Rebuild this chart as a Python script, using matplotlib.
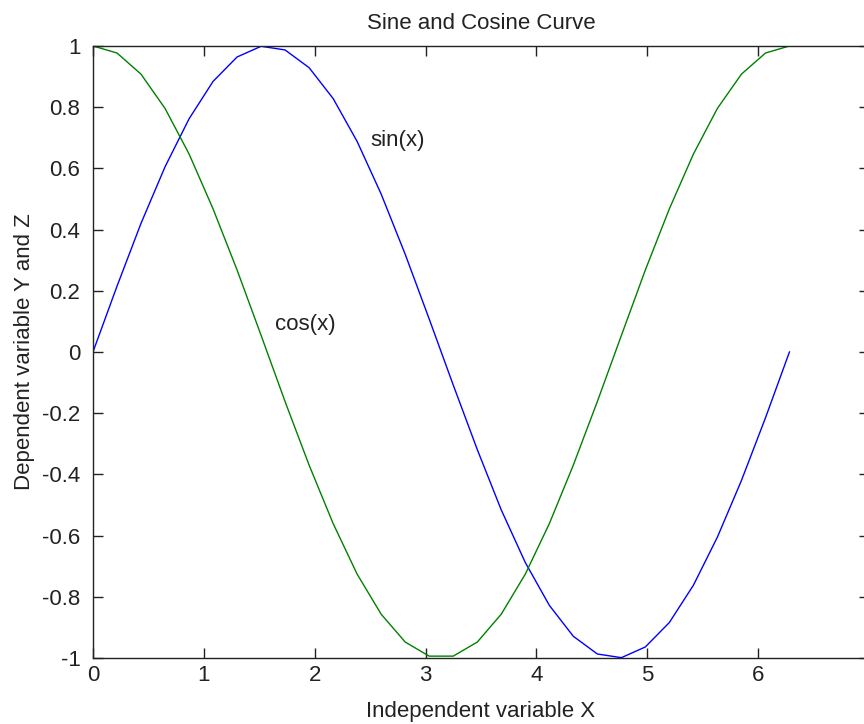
import matplotlib
matplotlib.use("Agg")
import matplotlib.pyplot as plt

# sample points (30 points from 0 to 2*pi)
x = [0.000, 0.217, 0.433, 0.650, 0.867, 1.083, 1.300, 1.517, 1.733, 1.950,
     2.167, 2.383, 2.600, 2.817, 3.033, 3.250, 3.467, 3.683, 3.900, 4.117,
     4.333, 4.550, 4.767, 4.983, 5.200, 5.417, 5.633, 5.850, 6.067, 6.283]
y_sin = [0.000, 0.215, 0.420, 0.605, 0.762, 0.884, 0.964, 0.999, 0.987, 0.929,
         0.828, 0.688, 0.516, 0.319, 0.108, -0.108, -0.319, -0.516, -0.688, -0.828,
         -0.929, -0.987, -0.999, -0.964, -0.884, -0.762, -0.605, -0.420, -0.215, 0.000]
z_cos = [1.000, 0.977, 0.908, 0.796, 0.647, 0.468, 0.268, 0.054, -0.162, -0.370,
         -0.561, -0.726, -0.857, -0.948, -0.994, -0.994, -0.948, -0.857, -0.726, -0.561,
         -0.370, -0.162, 0.054, 0.268, 0.468, 0.647, 0.796, 0.908, 0.977, 1.000]

x_ticks = [0, 1, 2, 3, 4, 5, 6, 7]
y_ticks = [-1, -0.8, -0.6, -0.4, -0.2, 0, 0.2, 0.4, 0.6, 0.8, 1]
y_tick_labels = ['-1', '-0.8', '-0.6', '-0.4', '-0.2', '0', '0.2', '0.4', '0.6', '0.8', '1']

plt.rcParams['font.family'] = ['Liberation Sans', 'DejaVu Sans']
plt.rcParams['font.size'] = 16

fig = plt.figure(figsize=(8.64, 7.24), dpi=100)
# axes box runs past the right edge of the picture, as in the reference
ax = fig.add_axes([0.1076, 0.0912, 0.8981, 0.8453])

ax.plot(x, y_sin, color=(0, 0, 1), linewidth=1.0)
ax.plot(x, z_cos, color=(0, 0.5, 0), linewidth=1.0)

ax.text(2.5, 0.69, 'sin(x)', ha='left', va='center', color='#222222')
ax.text(1.64, 0.09, 'cos(x)', ha='left', va='center', color='#222222')

ax.set_xlim(0, 7)
ax.set_ylim(-1, 1)
ax.set_xticks(x_ticks)
ax.set_yticks(y_ticks)
ax.set_yticklabels(y_tick_labels)

ax.tick_params(direction='in', top=True, right=True, length=7, width=1.0,
               colors='#222222', labelcolor='#222222')
ax.tick_params(axis='x', pad=5)
ax.tick_params(axis='y', pad=9)
for s in ax.spines.values():
    s.set_linewidth(1.0)
    s.set_color('#222222')

ax.set_title('Sine and Cosine Curve', fontsize=16, pad=12, color='#222222')
ax.set_xlabel('Independent variable X', labelpad=11, color='#222222')
ax.set_ylabel('Dependent variable Y and Z', labelpad=5, color='#222222')

fig.savefig('out.png', dpi=100)
